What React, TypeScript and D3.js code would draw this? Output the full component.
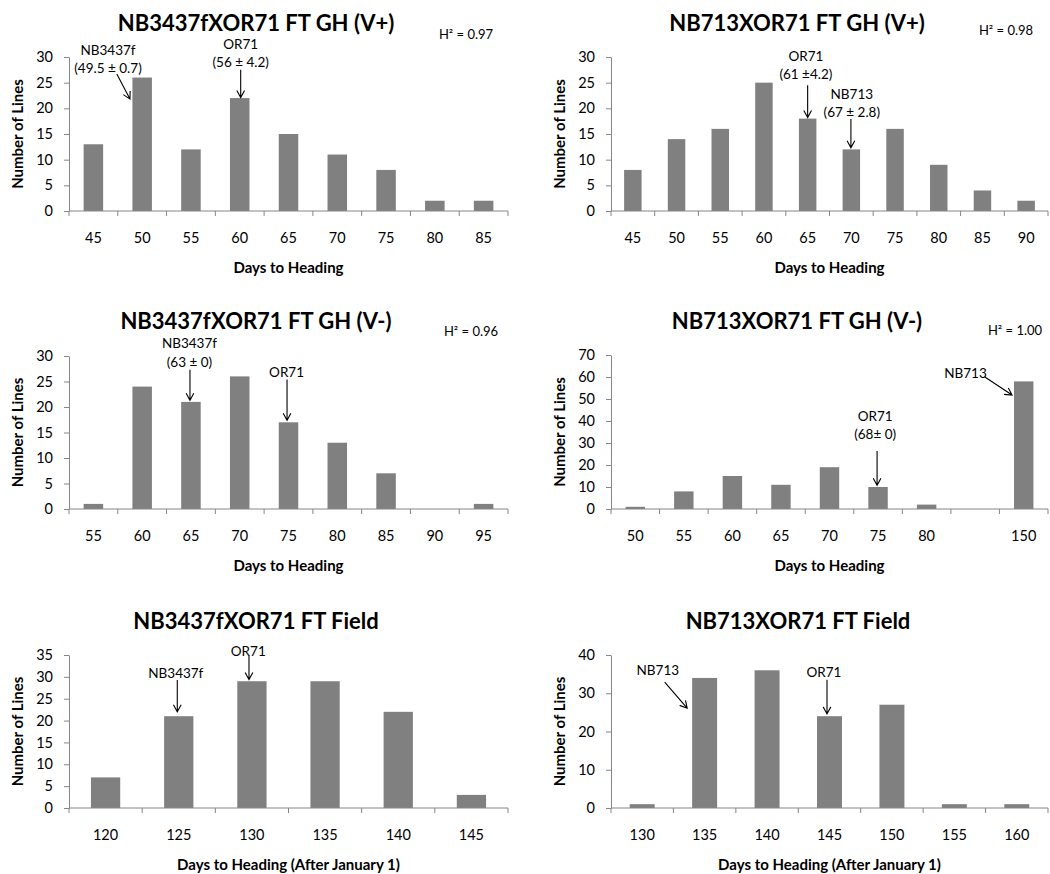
import * as d3 from "d3";
import React, { useEffect, useRef } from "react";

// NB3437f x OR71, greenhouse, vernalized (V+)
const p1Days = ["45", "50", "55", "60", "65", "70", "75", "80", "85"];
const p1Lines = [13, 26, 12, 22, 15, 11, 8, 2, 2];

// NB713 x OR71, greenhouse, vernalized (V+)
const p2Days = ["45", "50", "55", "60", "65", "70", "75", "80", "85", "90"];
const p2Lines = [8, 14, 16, 25, 18, 12, 16, 9, 4, 2];

// NB3437f x OR71, greenhouse, not vernalized (V-)
const p3Days = ["55", "60", "65", "70", "75", "80", "85", "90", "95"];
const p3Lines = [1, 24, 21, 26, 17, 13, 7, 0, 1];

// NB713 x OR71, greenhouse, not vernalized (V-) - 150 = never headed
const p4Days = ["50", "55", "60", "65", "70", "75", "80", "", "150"];
const p4Lines = [1, 8, 15, 11, 19, 10, 2, 0, 58];

// field trials, days after January 1
const p5Days = ["120", "125", "130", "135", "140", "145"];
const p5Lines = [7, 21, 29, 29, 22, 3];

const p6Days = ["130", "135", "140", "145", "150", "155", "160"];
const p6Lines = [1, 34, 36, 24, 27, 1, 1];

const titles = [
  "NB3437fXOR71 FT GH (V+)",
  "NB713XOR71 FT GH (V+)",
  "NB3437fXOR71 FT GH (V-)",
  "NB713XOR71 FT GH (V-)",
  "NB3437fXOR71 FT Field",
  "NB713XOR71 FT Field",
];
const heritability = ["0.97", "0.98", "0.96", "1.00", null, null];
const yMaxes = [30, 30, 30, 70, 35, 40];
const ySteps = [5, 5, 5, 10, 5, 10];

// parent annotations: text position and arrow, in (category units, count) coords
const p1Notes = [
  { text: ["NB3437f", "(49.5 ± 0.7)"], at: [0.8, 31.4], from: [0.98, 26.7], to: [1.25, 21.8] },
  { text: ["OR71", "(56 ± 4.2)"], at: [3.52, 32.5], from: [3.52, 27.5], to: [3.52, 22.1] },
];
const p2Notes = [
  { text: ["OR71", "(61 ±4.2)"], at: [4.46, 30.2], from: [4.5, 24.5], to: [4.5, 18.2] },
  { text: ["NB713", "(67 ± 2.8)"], at: [5.51, 22.8], from: [5.49, 17.9], to: [5.49, 12.3] },
];
const p3Notes = [
  { text: ["NB3437f", "(63 ± 0)"], at: [2.47, 32.4], from: [2.48, 27.3], to: [2.48, 21.3] },
  { text: ["OR71"], at: [4.46, 26.9], from: [4.47, 25.4], to: [4.47, 17.4] },
];
const p4Notes = [
  { text: ["NB713"], at: [7.3, 61.8], from: [7.7, 60], to: [8.26, 51.8] },
  { text: ["OR71", "(68± 0)"], at: [5.44, 42.3], from: [5.48, 26.4], to: [5.48, 10.8] },
];
const p5Notes = [
  { text: ["NB3437f"], at: [1.46, 30.9], from: [1.48, 29.3], to: [1.48, 22.0] },
  { text: ["OR71"], at: [2.45, 35.9], from: [2.46, 34.8], to: [2.46, 29.4] },
];
const p6Notes = [
  { text: ["NB713"], at: [0.75, 36.1], from: [0.86, 32.9], to: [1.22, 26.1] },
  { text: ["OR71"], at: [3.41, 35.6], from: [3.46, 33.5], to: [3.46, 24.6] },
];

const FONT = "Lato, 'Open Sans', sans-serif";
const AXIS = "#868686";
const BAR = "#808080";

// plot boxes: left, right, top (y of max tick), bottom (y of zero)
const layout = [
  { l: 69, r: 508, t: 57, b: 211, titleX: 256, titleY: 31, h2X: 466, h2Y: 39 },
  { l: 611, r: 1048, t: 57, b: 211, titleX: 797, titleY: 31, h2X: 1006, h2Y: 35 },
  { l: 69, r: 508, t: 356, b: 509, titleX: 256, titleY: 329, h2X: 471, h2Y: 336 },
  { l: 611, r: 1048, t: 355, b: 509, titleX: 797, titleY: 329, h2X: 1015, h2Y: 335 },
  { l: 69, r: 508, t: 655, b: 808, titleX: 256, titleY: 629, h2X: 0, h2Y: 0 },
  { l: 611, r: 1048, t: 655, b: 808, titleX: 798, titleY: 629, h2X: 0, h2Y: 0 },
];

const panels = [
  { cats: p1Days, vals: p1Lines, notes: p1Notes, xTitle: "Days to Heading" },
  { cats: p2Days, vals: p2Lines, notes: p2Notes, xTitle: "Days to Heading" },
  { cats: p3Days, vals: p3Lines, notes: p3Notes, xTitle: "Days to Heading" },
  { cats: p4Days, vals: p4Lines, notes: p4Notes, xTitle: "Days to Heading" },
  { cats: p5Days, vals: p5Lines, notes: p5Notes, xTitle: "Days to Heading (After January 1)" },
  { cats: p6Days, vals: p6Lines, notes: p6Notes, xTitle: "Days to Heading (After January 1)" },
];

const App = () => {
  const ref = useRef<SVGSVGElement | null>(null);

  useEffect(() => {
    drawChart();
  }, []);

  const drawChart = () => {
    const svg = d3.select(ref.current);
    svg.selectAll("*").remove();

    panels.forEach((p, k) => {
      const box = layout[k];
      const n = p.cats.length;
      const g = svg.append("g");

      const y = d3.scaleLinear().domain([0, yMaxes[k]]).range([box.b, box.t]);
      const x = d3
        .scaleBand()
        .domain(d3.range(n).map(String))
        .range([box.l, box.r])
        .paddingInner(0.6)
        .paddingOuter(0.3);
      // continuous position in category units, for ticks and the arrows
      const xu = d3.scaleLinear().domain([0, n]).range([box.l, box.r]);

      // bars
      g.selectAll("rect.bar")
        .data(p.vals)
        .enter()
        .append("rect")
        .attr("class", "bar")
        .attr("x", (_, i) => x(String(i)))
        .attr("y", (d) => y(d))
        .attr("width", x.bandwidth())
        .attr("height", (d) => box.b - y(d))
        .attr("fill", BAR);

      // y axis
      const yAxis = g
        .append("g")
        .attr("transform", `translate(${box.l},0)`)
        .call(
          d3
            .axisLeft(y)
            .tickValues(d3.range(0, yMaxes[k] + 1, ySteps[k]))
            .tickSize(5)
            .tickSizeOuter(0)
            .tickPadding(11)
        );
      yAxis.select(".domain").attr("stroke", AXIS);
      yAxis.selectAll(".tick line").attr("stroke", AXIS);
      yAxis
        .selectAll(".tick text")
        .attr("fill", "#000")
        .style("font-family", FONT)
        .style("font-size", "14.5px");

      // x axis: baseline, boundary ticks, centred labels
      g.append("line")
        .attr("x1", box.l)
        .attr("x2", box.r)
        .attr("y1", box.b)
        .attr("y2", box.b)
        .attr("stroke", AXIS);
      g.selectAll("line.xtick")
        .data(d3.range(n + 1))
        .enter()
        .append("line")
        .attr("class", "xtick")
        .attr("x1", (d) => xu(d))
        .attr("x2", (d) => xu(d))
        .attr("y1", box.b)
        .attr("y2", box.b + 5)
        .attr("stroke", AXIS);
      g.selectAll("text.xlab")
        .data(p.cats)
        .enter()
        .append("text")
        .attr("class", "xlab")
        .attr("x", (_, i) => xu(i + 0.5))
        .attr("y", box.b + 32)
        .attr("text-anchor", "middle")
        .style("font-family", FONT)
        .style("font-size", "14.5px")
        .text((d) => d);

      // axis titles
      g.append("text")
        .attr("x", (box.l + box.r) / 2)
        .attr("y", box.b + 62)
        .attr("text-anchor", "middle")
        .style("font-family", FONT)
        .style("font-size", "15px")
        .style("font-weight", "bold")
        .text(p.xTitle);
      g.append("text")
        .attr("transform", `translate(${box.l - 51},${(box.t + box.b) / 2}) rotate(-90)`)
        .attr("dy", "0.35em")
        .attr("text-anchor", "middle")
        .style("font-family", FONT)
        .style("font-size", "15px")
        .style("font-weight", "bold")
        .text("Number of Lines");

      // chart title
      g.append("text")
        .attr("x", box.titleX)
        .attr("y", box.titleY)
        .attr("text-anchor", "middle")
        .style("font-family", FONT)
        .style("font-size", "22px")
        .style("font-weight", "bold")
        .text(titles[k]);

      if (heritability[k]) {
        g.append("text")
          .attr("x", box.h2X)
          .attr("y", box.h2Y)
          .attr("text-anchor", "middle")
          .style("font-family", FONT)
          .style("font-size", "13px")
          .text(`H² = ${heritability[k]}`);
      }

      // parent annotations with open arrowheads
      p.notes.forEach((note) => {
        const tx = xu(note.at[0]);
        const ty = y(note.at[1]);
        note.text.forEach((line, j) => {
          g.append("text")
            .attr("x", tx)
            .attr("y", ty + j * 18.5)
            .attr("dy", "0.35em")
            .attr("text-anchor", "middle")
            .style("font-family", FONT)
            .style("font-size", "13.5px")
            .text(line);
        });
        const x1 = xu(note.from[0]);
        const y1 = y(note.from[1]);
        const x2 = xu(note.to[0]);
        const y2 = y(note.to[1]);
        const ang = Math.atan2(y2 - y1, x2 - x1);
        const head = 8;
        const spread = 0.5;
        const path = d3.path();
        path.moveTo(x1, y1);
        path.lineTo(x2, y2);
        path.moveTo(x2 - head * Math.cos(ang - spread), y2 - head * Math.sin(ang - spread));
        path.lineTo(x2, y2);
        path.lineTo(x2 - head * Math.cos(ang + spread), y2 - head * Math.sin(ang + spread));
        g.append("path")
          .attr("d", path.toString())
          .attr("fill", "none")
          .attr("stroke", "#000")
          .attr("stroke-width", 1.1);
      });
    });
  };

  return (
    <svg
      ref={ref}
      width={1050}
      height={874}
      style={{ position: "absolute", left: 0, top: 0, background: "#fff" }}
    />
  );
};

export default App;
